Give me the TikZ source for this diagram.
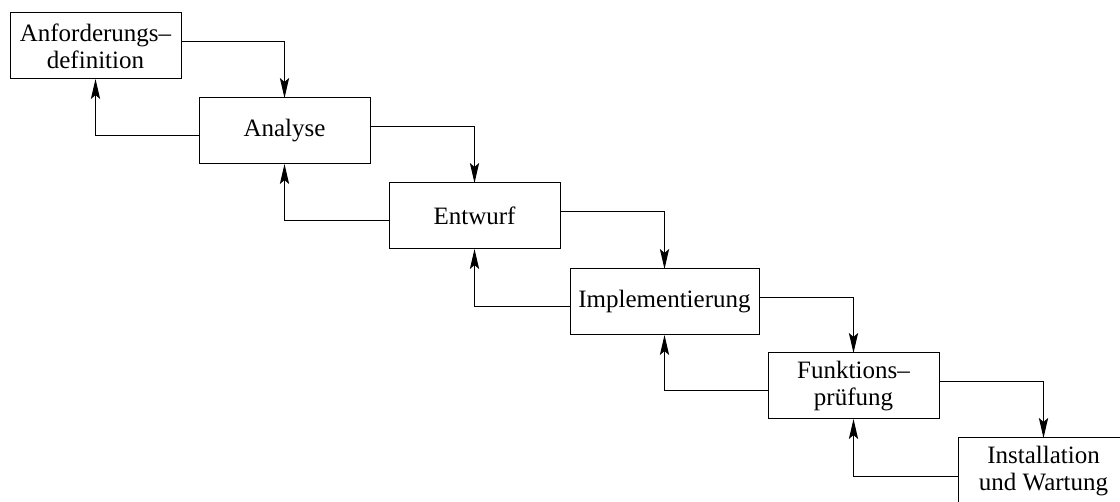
\documentclass[tikz,border=0pt]{standalone}
\usepackage{fontspec}
\setmainfont{Liberation Serif}
\usetikzlibrary{positioning}
\usetikzlibrary{arrows.meta}

\begin{document}
\begin{tikzpicture}[
    x = 0.5pt,
    y = -0.5pt,
    line width = 0.5pt,
    >={Stealth[length=10pt, width=4.6pt, inset=2pt]},
    ]

    \tikzstyle{phase}=[
    draw = black,
    line width = 0.5pt,
    minimum width = 85.5pt,
    minimum height = 33pt,
    inner sep = 0pt,
    outer sep = 0pt,
    align = center,
    font = \fontsize{12.5}{13.5}\selectfont,
    ]

    \useasboundingbox (0,0) rectangle (1120,502);

    \node[phase, anchor=north west] (anf) at (10,13) {Anforderungs--\\definition};
    \node[phase] (ana) [below right=9.5pt and 9pt of anf] {Analyse};
    \node[phase] (ent) [below right=9.5pt and 9.5pt of ana] {Entwurf};
    \node[phase, minimum width=94.5pt] (imp) [below right=10pt and 5pt of ent] {Implementierung};
    \node[phase] (fun) [below right=9pt and 4.5pt of imp] {Funktions--\\prüfung};
    \node[phase] (ins) [below right=9.5pt and 9.5pt of fun] {Installation\\und Wartung};

    % forward
    \draw[->] ([yshift=2pt]anf.east) -| (ana.north);
    \draw[->] ([yshift=2pt]ana.east) -| (ent.north);
    \draw[->] ([yshift=2pt]ent.east) -| (imp.north);
    \draw[->] ([yshift=2pt]imp.east) -| (fun.north);
    \draw[->] ([yshift=2pt]fun.east) -| (ins.north);

    % back
    \draw[->] ([yshift=-2.5pt]ana.west) -| (anf.south);
    \draw[->] ([yshift=-2.5pt]ent.west) -| (ana.south);
    \draw[->] ([yshift=-2.5pt]imp.west) -| (ent.south);
    \draw[->] ([yshift=-2.5pt]fun.west) -| (imp.south);
    \draw[->] ([yshift=-2.5pt]ins.west) -| (fun.south);
  \end{tikzpicture}
\end{document}
